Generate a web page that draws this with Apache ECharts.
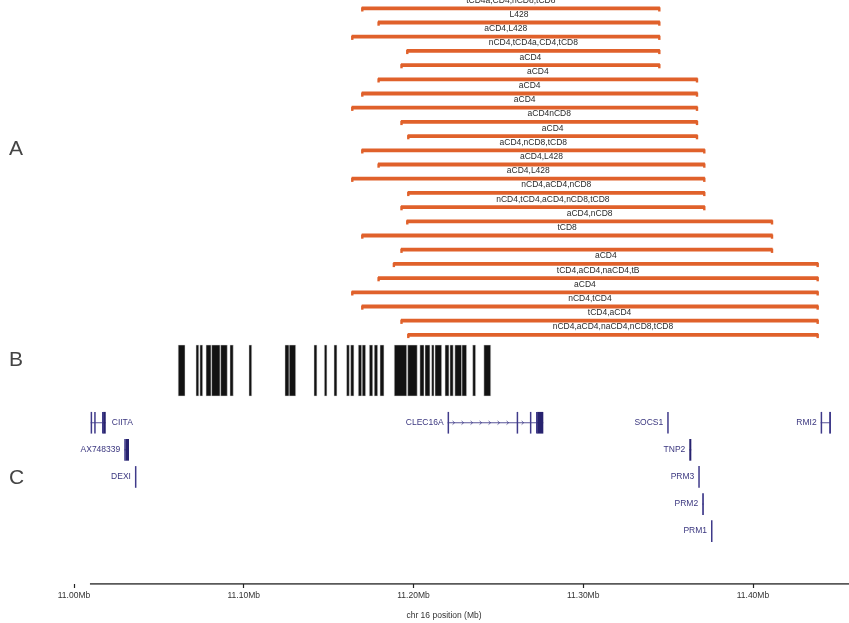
<!DOCTYPE html>
<html>
<head>
<meta charset="utf-8">
<title>chr16 reads</title>
<script src="https://cdn.jsdelivr.net/npm/echarts@6/dist/echarts.min.js"></script>
<style>
  html, body { margin: 0; padding: 0; background: #fff; }
  #main { width: 849px; height: 623px; }
</style>
</head>
<body>
<div id="main"></div>
<script>
// ---- data, all positions in Mb on chr16 ----
// A: reads, top to bottom
const readLabels = [
  'tCD4a,CD4,nCD8,tCD8', 'L428', 'aCD4,L428', 'nCD4,tCD4a,CD4,tCD8', 'aCD4', 'aCD4',
  'aCD4', 'aCD4', 'aCD4nCD8', 'aCD4', 'aCD4,nCD8,tCD8', 'aCD4,L428',
  'aCD4,L428', 'nCD4,aCD4,nCD8', 'nCD4,tCD4,aCD4,nCD8,tCD8', 'aCD4,nCD8', 'tCD8', '',
  'aCD4', 'tCD4,aCD4,naCD4,tB', 'aCD4', 'nCD4,tCD4', 'tCD4,aCD4', 'nCD4,aCD4,naCD4,nCD8,tCD8'
]
const readStarts = [
  11.1695, 11.1791, 11.1636, 11.1960, 11.1926, 11.1791,
  11.1695, 11.1636, 11.1926, 11.1966, 11.1695, 11.1791,
  11.1636, 11.1966, 11.1926, 11.1960, 11.1695, 11.1926,
  11.1881, 11.1791, 11.1636, 11.1695, 11.1926, 11.1966
]
const readEnds = [
  11.3452, 11.3452, 11.3452, 11.3452, 11.3452, 11.3674,
  11.3674, 11.3674, 11.3674, 11.3674, 11.3717, 11.3717,
  11.3717, 11.3717, 11.3717, 11.4116, 11.4116, 11.4116,
  11.4385, 11.4385, 11.4385, 11.4385, 11.4385, 11.4385
]

// B: blocks
const blockStarts = [
  11.0614, 11.0719, 11.0742, 11.0778, 11.0811, 11.0864, 11.0919, 11.1031,
  11.1243, 11.1268, 11.1414, 11.1475, 11.1532, 11.1606, 11.1630, 11.1675,
  11.1698, 11.1740, 11.1769, 11.1803, 11.1887, 11.1966, 11.2038, 11.2068,
  11.2107, 11.2127, 11.2186, 11.2215, 11.2244, 11.2286, 11.2349, 11.2415
]
const blockEnds = [
  11.0654, 11.0735, 11.0758, 11.0807, 11.0860, 11.0903, 11.0938, 11.1047,
  11.1267, 11.1306, 11.1431, 11.1490, 11.1549, 11.1622, 11.1649, 11.1695,
  11.1718, 11.1760, 11.1789, 11.1826, 11.1960, 11.2022, 11.2062, 11.2097,
  11.2121, 11.2166, 11.2209, 11.2234, 11.2284, 11.2313, 11.2366, 11.2455
]

// C: genes
const geneNames = ['CIITA', 'CLEC16A', 'SOCS1', 'RMI2', 'AX748339', 'DEXI', 'TNP2', 'PRM3', 'PRM2', 'PRM1']
const geneRows = [0, 0, 0, 0, 1, 2, 1, 2, 3, 4]
const geneStarts = [11.0098, 11.2201, 11.3495, 11.4399, 11.0296, 11.0359, 11.3625, 11.3678, 11.3701, 11.3753]
const geneEnds = [11.0187, 11.2765, 11.3496, 11.4460, 11.0324, 11.0360, 11.3637, 11.3679, 11.3711, 11.3754]
const geneExons = [
  [[11.0098, 11.0099], [11.0119, 11.0120], [11.0165, 11.0166], [11.0172, 11.0187]],
  [[11.2201, 11.2202], [11.2608, 11.2609], [11.2686, 11.2687], [11.2722, 11.2723], [11.2729, 11.2765]],
  [[11.3495, 11.3496]],
  [[11.4399, 11.4400], [11.4449, 11.4460]],
  [[11.0296, 11.0297], [11.0304, 11.0324]],
  [[11.0359, 11.0360]],
  [[11.3625, 11.3637]],
  [[11.3678, 11.3679]],
  [[11.3701, 11.3711]],
  [[11.3753, 11.3754]]
]
const labelRight = ['CIITA']

const tickValues = [11.0, 11.1, 11.2, 11.3, 11.4]

// ---- layout / style ----
const X_MIN = 11.0
const X_MAX = 11.4566
const AXIS_LINE_START = 11.0094
const READ_COLOR = '#e0612b'
const GENE_COLOR = '#2e2a7d'
const SANS = '"Liberation Sans", Arial, sans-serif'
const NARROW = '"Liberation Sans Narrow", "Arial Narrow", "Liberation Sans", sans-serif'

const chart = echarts.init(document.getElementById('main'))

function renderRead(params, api) {
  const i = api.value(0)
  const p0 = api.coord([api.value(1), i])
  const p1 = api.coord([api.value(2), i])
  const y = p0[1]
  const st = { fill: READ_COLOR }
  const kids = [
    { type: 'rect', shape: { x: p0[0], y: y - 1.9, width: p1[0] - p0[0], height: 3.8 }, style: st },
    // little hooks on the ends
    { type: 'rect', shape: { x: p0[0] - 0.6, y: y - 1, width: 2.4, height: 4.2 }, style: st },
    { type: 'rect', shape: { x: p1[0] - 1.8, y: y - 1, width: 2.4, height: 4.2 }, style: st }
  ]
  if (readLabels[i]) {
    kids.push({
      type: 'text',
      style: {
        text: readLabels[i], x: (p0[0] + p1[0]) / 2, y: y - 7.8,
        align: 'center', verticalAlign: 'middle',
        fontSize: 8.5, fontFamily: SANS, fill: '#2a2a2a'
      }
    })
  }
  return { type: 'group', children: kids }
}

function renderBlock(params, api) {
  const top = api.coord([api.value(0), 1])
  const bot = api.coord([api.value(1), 0])
  return {
    type: 'rect',
    shape: { x: top[0], y: top[1], width: Math.max(bot[0] - top[0], 1), height: bot[1] - top[1] },
    style: { fill: '#121212', stroke: '#d8d8d8', lineWidth: 0.5 }
  }
}

function renderGene(params, api) {
  const g = params.dataIndex
  const row = api.value(0)
  const a = api.coord([api.value(1), row])
  const b = api.coord([api.value(2), row])
  const y = a[1]
  const h = api.size([0, 1])[1] * 0.8
  const kids = []
  if (b[0] - a[0] > 1) {
    kids.push({ type: 'line', shape: { x1: a[0], y1: y, x2: b[0], y2: y }, style: { stroke: GENE_COLOR, lineWidth: 0.8 } })
  }
  let prevEnd = null
  geneExons[g].forEach(function (e) {
    const e0 = api.coord([e[0], row])[0]
    const e1 = api.coord([e[1], row])[0]
    const w = Math.max(e1 - e0, 1.5)
    // strand arrows in the intron before this exon
    if (prevEnd !== null && e0 - prevEnd > 8) {
      for (let x = prevEnd + 5; x < e0 - 2; x += 9) {
        kids.push({
          type: 'polyline',
          shape: { points: [[x - 1.5, y - 1.8], [x + 0.5, y], [x - 1.5, y + 1.8]] },
          style: { stroke: GENE_COLOR, lineWidth: 0.7, fill: null }
        })
      }
    }
    kids.push({
      type: 'rect',
      shape: { x: e0, y: y - h / 2, width: w, height: h },
      style: { fill: w > 2 ? '#27226f' : '#3f3a8a' }
    })
    prevEnd = e0 + w
  })
  const right = labelRight.indexOf(geneNames[g]) >= 0
  kids.push({
    type: 'text',
    style: {
      text: geneNames[g], x: right ? b[0] + 6 : a[0] - 4, y: y,
      align: right ? 'left' : 'right', verticalAlign: 'middle',
      fontSize: 8.5, fontFamily: SANS, fill: '#3a367f'
    }
  })
  return { type: 'group', children: kids }
}

const hiddenX = { type: 'value', min: X_MIN, max: X_MAX, show: false }

chart.setOption({
  backgroundColor: '#fff',
  animation: false,
  grid: [
    { left: 74, right: 0, top: 1.2, height: 340.8 },  // A
    { left: 74, right: 0, top: 345, height: 51 },     // B
    { left: 74, right: 0, top: 409.2, height: 135.5 },// C
    { left: 74, right: 0, top: 564, height: 20 }      // axis
  ],
  xAxis: [
    Object.assign({ gridIndex: 0 }, hiddenX),
    Object.assign({ gridIndex: 1 }, hiddenX),
    Object.assign({ gridIndex: 2 }, hiddenX),
    {
      gridIndex: 3, type: 'value', min: X_MIN, max: X_MAX,
      axisLine: { show: false },
      splitLine: { show: false },
      axisTick: { show: true, customValues: tickValues, length: 4, lineStyle: { color: '#222', width: 1.2 } },
      axisLabel: {
        customValues: tickValues, margin: 7,
        formatter: function (v) { return v.toFixed(2) + 'Mb' },
        fontSize: 8.5, fontFamily: NARROW, color: '#333'
      }
    }
  ],
  yAxis: [
    { gridIndex: 0, type: 'value', min: -0.5, max: readLabels.length - 0.5, inverse: true, show: false },
    { gridIndex: 1, type: 'value', min: 0, max: 1, show: false },
    { gridIndex: 2, type: 'value', min: -0.5, max: 4.5, inverse: true, show: false },
    { gridIndex: 3, type: 'value', min: 0, max: 1, show: false }
  ],
  graphic: [
    { type: 'text', left: 9, top: 139, style: { text: 'A', fontSize: 21, fill: '#444', fontFamily: SANS } },
    { type: 'text', left: 9, top: 350, style: { text: 'B', fontSize: 21, fill: '#444', fontFamily: SANS } },
    { type: 'text', left: 9, top: 468, style: { text: 'C', fontSize: 21, fill: '#444', fontFamily: SANS } },
    { type: 'text', x: 444, y: 616, style: { text: 'chr 16 position (Mb)', fontSize: 8.5, fill: '#333', fontFamily: NARROW, align: 'center', verticalAlign: 'middle' } }
  ],
  series: [
    {
      type: 'custom', xAxisIndex: 0, yAxisIndex: 0,
      renderItem: renderRead,
      encode: { x: [1, 2], y: 0 },
      data: readStarts.map(function (s, i) { return [i, s, readEnds[i]] })
    },
    {
      type: 'custom', xAxisIndex: 1, yAxisIndex: 1,
      renderItem: renderBlock,
      encode: { x: [0, 1] },
      data: blockStarts.map(function (s, i) { return [s, blockEnds[i]] })
    },
    {
      type: 'custom', xAxisIndex: 2, yAxisIndex: 2,
      renderItem: renderGene,
      encode: { x: [1, 2], y: 0 },
      data: geneNames.map(function (n, i) { return [geneRows[i], geneStarts[i], geneEnds[i]] })
    },
    {
      type: 'line', xAxisIndex: 3, yAxisIndex: 3,
      symbol: 'none', silent: true,
      lineStyle: { color: '#222', width: 1.5 },
      data: [[AXIS_LINE_START, 0], [X_MAX, 0]]
    }
  ]
})
</script>
</body>
</html>
